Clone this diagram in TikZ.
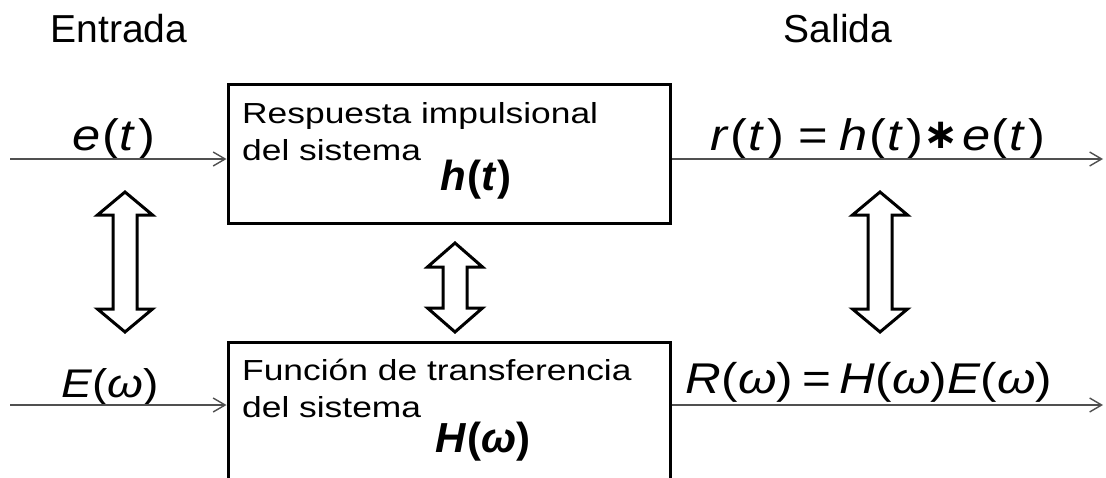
\documentclass[tikz,border=0pt]{standalone}
\usepackage{fontspec}
\setmainfont{Liberation Sans}
\newfontfamily\boxfont[FakeStretch=1.22]{Liberation Sans}
\newfontfamily\eqfont[FakeStretch=1.15]{Liberation Sans}
\newfontfamily\symfont{DejaVu Sans}
\usetikzlibrary{arrows.meta}
\definecolor{lineGray}{HTML}{505050}

\tikzset{
  sysbox/.style={draw, line width=3pt, minimum width=442pt, inner sep=0pt},
  sig/.style={line width=1.4pt, lineGray, -{Straight Barb[length=12pt,width=14pt,line width=1.4pt]}},
  dblarr/.style={line width=3pt, line join=miter},
  title/.style={font=\fontsize{39}{44}\selectfont, anchor=base, inner sep=0pt},
  eqlabel/.style={font=\eqfont\fontsize{44}{50}\selectfont, anchor=base, inner sep=0pt},
  eqbold/.style={font=\bfseries\fontsize{42}{48}\selectfont, anchor=base, inner sep=0pt},
  boxtext/.style={font=\boxfont\fontsize{29}{37}\selectfont, anchor=base west, inner sep=0pt}
}

% function of t, spaced like the equation editor
\newcommand{\fn}[2]{\textit{#1}\kern1.5pt(\kern1pt\textit{#2}\kern3pt)}

% hollow two-headed arrow: x, top tip, bottom tip, head length
\newcommand{\dualarrow}[4]{%
  \draw[dblarr] (#1,#2) -- (#1+27.5,#2+#4) -- (#1+12,#2+#4) -- (#1+12,#3-#4)
    -- (#1+27.5,#3-#4) -- (#1,#3) -- (#1-27.5,#3-#4) -- (#1-12,#3-#4)
    -- (#1-12,#2+#4) -- (#1-27.5,#2+#4) -- cycle;}

\begin{document}
\begin{tikzpicture}[x=1pt, y=-1pt]
\clip (0,0) rectangle (1106,477);

% Titles
\node[title] (entrada) at (119,42) {Entrada};
\node[title] (salida) at (838,42) {Salida};

% System boxes
\node[sysbox, minimum height=139pt] (hbox) at (449,153.5) {};
\node[sysbox, minimum height=218pt] (Hbox) at (449,451) {};

% Box texts
\node[boxtext] (hline1) at (242,123) {Respuesta impulsional};
\node[boxtext] (hline2) at (242,160) {del sistema};
\node[eqbold] (hsym) at (476,190) {\textit{h}\kern1pt(\textit{t}\kern1pt)};
\node[boxtext] (Hline1) at (242,380) {Función de transferencia};
\node[boxtext] (Hline2) at (242,417) {del sistema};
\node[eqbold] (Hsym) at (483,452) {\textit{H}(\textit{ω})};

% Signal labels
\node[eqlabel] (eLbl) at (114,150) {\fn{e}{t}};
\node[eqlabel] (rLbl) at (878,150) {\fn{r}{t}\kern14pt=\kern12pt\fn{h}{t}\kern1pt{\symfont\bfseries\fontsize{42}{42}\selectfont\raisebox{2pt}{∗}}\kern3pt\fn{e}{t}};
\node[eqlabel, font=\eqfont\fontsize{40}{46}\selectfont] (ELbl) at (110,397) {\textit{E}(\textit{ω})};
\node[eqlabel, font=\eqfont\fontsize{43}{48}\selectfont] (RLbl) at (869,393) {\textit{R}(\textit{ω})\kern9pt=\kern9pt\textit{H}(\textit{ω})\textit{E}(\textit{ω})};

% Signal lines
\coordinate (eIn) at (10,159);
\coordinate (rOut) at (1103,159);
\coordinate (EIn) at (10,405);
\coordinate (ROut) at (1103,405);
\draw[sig] (eIn) -- (eIn -| hbox.west);
\draw[sig] (rOut -| hbox.east) -- (rOut);
\draw[sig] (EIn) -- (EIn -| Hbox.west);
\draw[sig] (ROut -| Hbox.east) -- (ROut);

% Time/frequency correspondences
\dualarrow{125}{192}{332}{23}
\dualarrow{455}{243}{332}{24}
\dualarrow{880}{192}{332}{23}
\end{tikzpicture}
\end{document}
